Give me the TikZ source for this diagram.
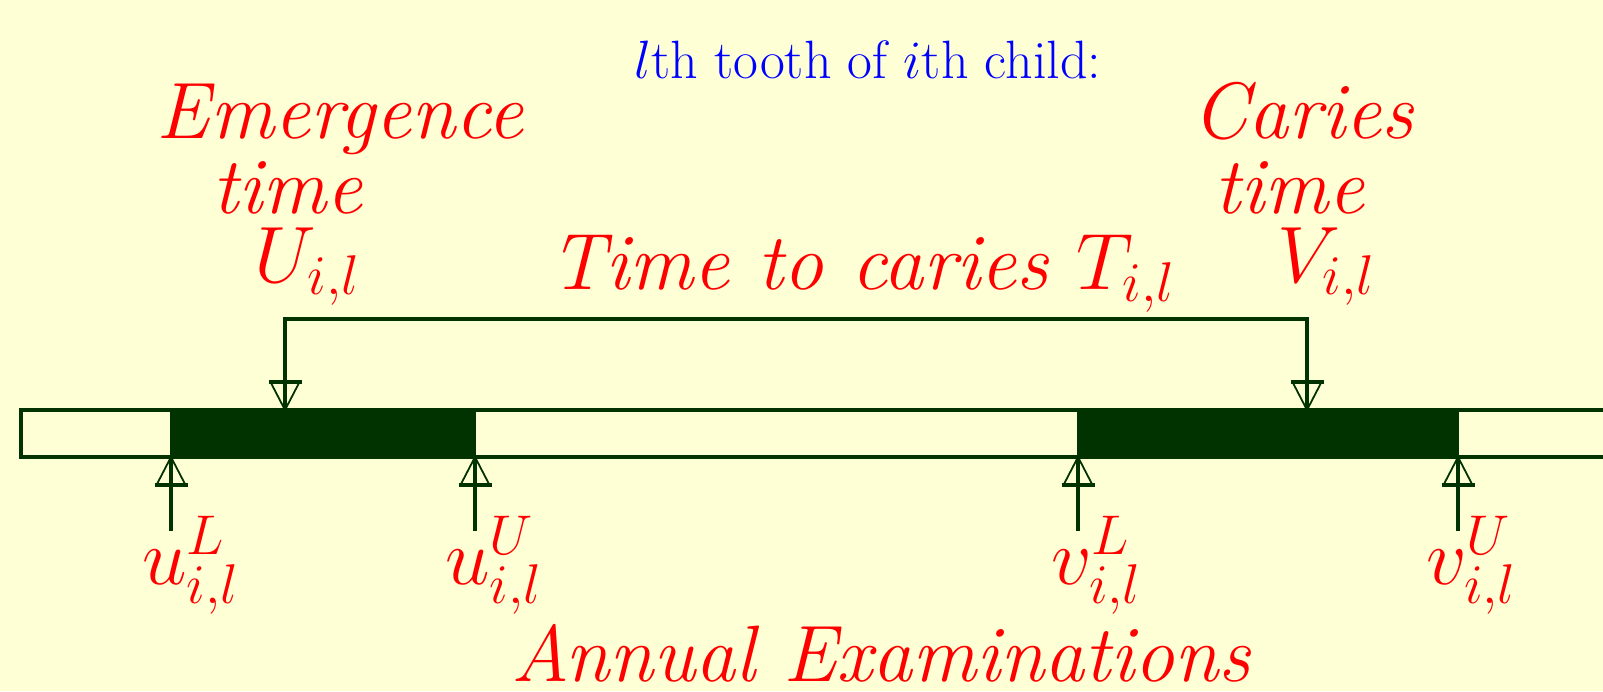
\documentclass[tikz,border=0pt]{standalone}
\usepackage{fix-cm}
\definecolor{bg}{RGB}{255,255,214}
\definecolor{dkgreen}{RGB}{0,51,0}
\pgfdeclarearrow{
  name = BarTri,
  parameters = {},
  setup code = {
    \pgfarrowssettipend{0pt}
    \pgfarrowssetlineend{0pt}
    \pgfarrowssetbackend{-30pt}
    \pgfarrowssetvisualbackend{-30pt}
  },
  drawing code = {
    \pgfsetdash{}{0pt}
    \pgfsetmiterjoin
    \pgfsetlinewidth{1.8pt}
    \pgfpathmoveto{\pgfqpoint{0pt}{0pt}}
    \pgfpathlineto{\pgfqpoint{-28pt}{14.5pt}}
    \pgfpathlineto{\pgfqpoint{-28pt}{-14.5pt}}
    \pgfpathclose
    \pgfusepathqstroke
    \pgfsetlinewidth{3.6pt}
    \pgfpathmoveto{\pgfqpoint{-28pt}{16.5pt}}
    \pgfpathlineto{\pgfqpoint{-28pt}{-16.5pt}}
    \pgfusepathqstroke
  }
}
\tikzset{
  lbl/.style={text=red, font=\fontsize{80}{80}\selectfont\itshape, inner sep=0pt, anchor=base},
  mlbl/.style={text=red, font=\fontsize{80}{80}\selectfont, inner sep=0pt, anchor=base west},
  ttl/.style={text=blue, font=\fontsize{54}{54}\selectfont, inner sep=0pt, anchor=base},
  conn/.style={draw=dkgreen, line width=3.6pt, -BarTri},
  barline/.style={draw=dkgreen, line width=3.6pt},
  exam/.style={fill=dkgreen},
}
\begin{document}
\begin{tikzpicture}[x=1pt,y=-1pt]
  \fill[bg] (0,0) rectangle (1603,691);
  \useasboundingbox (0,0) rectangle (1603,691);
  \clip (0,0) rectangle (1603,691);

  % texts
  \node[ttl] (title) at (868,78) {$l$th tooth of $i$th child:};
  \node[lbl] (emerg) at (340,138) {Emergence};
  \node[lbl] (etime) at (287,213) {time};
  \node[lbl] (U) at (307,282) {$U_{i,l}$};
  \node[lbl] (caries) at (1303,138) {Caries};
  \node[lbl] (ctime) at (1289,213) {time};
  \node[lbl] (V) at (1326,282) {$V_{i,l}$};
  \node[lbl] (ttc) at (862,289) {Time to caries $T_{i,l}$};
  \node[lbl] (annual) at (881,681) {Annual Examinations};

  % time line
  \fill[exam] (170,410) rectangle (476,457);
  \fill[exam] (1077,410) rectangle (1459,457);
  \draw[barline] (1640,410) -- (21,410) -- (21,457) -- (1640,457);

  % upper connector
  \coordinate (Utip) at (285,410);
  \coordinate (Vtip) at (1307,410);
  \coordinate (top) at (796,319);
  \draw[conn] (top) -| (Utip);
  \draw[conn] (top) -| (Vtip);

  % examination arrows
  \coordinate (uLtip) at (171,457);
  \coordinate (uUtip) at (475,457);
  \coordinate (vLtip) at (1078,457);
  \coordinate (vUtip) at (1458,457);
  \coordinate (uLfoot) at (171,531);
  \coordinate (uUfoot) at (475,531);
  \coordinate (vLfoot) at (1078,531);
  \coordinate (vUfoot) at (1458,531);
  \draw[conn] (uLfoot) -- (uLtip);
  \draw[conn] (uUfoot) -- (uUtip);
  \draw[conn] (vLfoot) -- (vLtip);
  \draw[conn] (vUfoot) -- (vUtip);

  \node[mlbl] (uL) at (142,584) {$u^{L}_{i,l}$};
  \node[mlbl] (uU) at (445,584) {$u^{U}_{i,l}$};
  \node[mlbl] (vL) at (1051,584) {$v^{L}_{i,l}$};
  \node[mlbl] (vU) at (1426,584) {$v^{U}_{i,l}$};
\end{tikzpicture}
\end{document}
